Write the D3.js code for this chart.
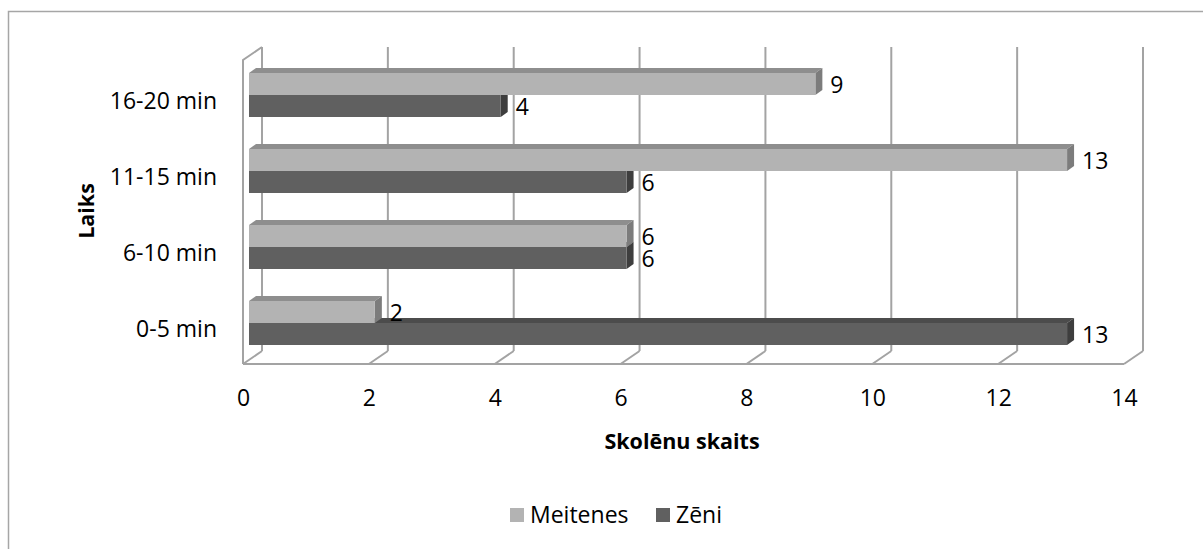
<!DOCTYPE html>
<html>
<head>
<meta charset="utf-8">
<script src="https://cdn.jsdelivr.net/npm/d3@7"></script>
<style>
  body { margin: 0; background: #fff; }
  svg { display: block; font-family: "Open Sans", sans-serif; }
</style>
</head>
<body>
<div id="chart"></div>
<script>
const categories = ['16-20 min', '11-15 min', '6-10 min', '0-5 min'];
const meitenes = [9, 13, 6, 2];
const zeni = [4, 6, 6, 13];
const xTicks = [0, 2, 4, 6, 8, 10, 12, 14];
const seriesNames = ['Meitenes', 'Zēni'];

const width = 1203, height = 549;

// 3d geometry of the plot box
const depth = {dx: 19, dy: -13};     // front plane -> back wall
const barShift = {dx: 6, dy: -3};    // front plane -> bar front face
const barDepth = {dx: 7, dy: -5};    // bar front face -> bar back face

const colors = {
  Meitenes: {front: '#b3b3b3', top: '#8e8e8e', side: '#7c7c7c'},
  'Zēni': {front: '#606060', top: '#4c4c4c', side: '#3e3e3e'}
};
const gridColor = '#a3a3a3';
const labelSize = 23;

const svg = d3.select('#chart').append('svg')
  .attr('width', width)
  .attr('height', height);

// outer frame (only top and left edges are in view)
svg.append('path')
  .attr('d', `M8.5,${height} L8.5,11.5 L${width},11.5`)
  .attr('fill', 'none')
  .attr('stroke', '#a6a6a6')
  .attr('stroke-width', 1.5);

const x = d3.scaleLinear().domain([0, 14]).range([243, 1124]);
const y = d3.scaleBand().domain(categories).range([60, 364]);

const floorY = y.range()[1];
const topY = y.range()[0];

const grid = svg.append('g')
  .attr('fill', 'none')
  .attr('stroke', gridColor)
  .attr('stroke-width', 2);

// back wall verticals
grid.selectAll('.vgrid')
  .data(xTicks)
  .enter().append('line')
  .attr('x1', d => x(d) + depth.dx)
  .attr('x2', d => x(d) + depth.dx)
  .attr('y1', topY + depth.dy)
  .attr('y2', floorY + depth.dy);

// floor diagonals
grid.selectAll('.fgrid')
  .data(xTicks)
  .enter().append('line')
  .attr('x1', d => x(d) + depth.dx)
  .attr('x2', d => x(d))
  .attr('y1', floorY + depth.dy)
  .attr('y2', floorY);

// floor front edge
grid.append('line')
  .attr('x1', x(0)).attr('x2', x(14))
  .attr('y1', floorY).attr('y2', floorY);

// left wall front edge + top
grid.append('path')
  .attr('d', `M${x(0)},${floorY} L${x(0)},${topY} L${x(0) + depth.dx},${topY + depth.dy}`);

// bars: dark ones first so the light bar above hides their top face
const barH = 22;
const rows = [];
categories.forEach((c, i) => {
  const mid = y(c) + y.bandwidth() / 2;
  rows.push({cat: c, series: 'Zēni', value: zeni[i], y0: mid, y1: mid + barH});
  rows.push({cat: c, series: 'Meitenes', value: meitenes[i], y0: mid - barH, y1: mid});
});

const bars = svg.append('g')
  .selectAll('g')
  .data(rows)
  .enter().append('g');

bars.each(function(d) {
  const g = d3.select(this);
  const x0 = x(0) + barShift.dx, x1 = x(d.value) + barShift.dx;
  const y0 = d.y0 + barShift.dy, y1 = d.y1 + barShift.dy;
  const c = colors[d.series];
  g.append('polygon')
    .attr('points', [[x0, y0], [x0 + barDepth.dx, y0 + barDepth.dy], [x1 + barDepth.dx, y0 + barDepth.dy], [x1, y0]].join(' '))
    .attr('fill', c.top);
  g.append('polygon')
    .attr('points', [[x1, y0], [x1 + barDepth.dx, y0 + barDepth.dy], [x1 + barDepth.dx, y1 + barDepth.dy], [x1, y1]].join(' '))
    .attr('fill', c.side);
  g.append('rect')
    .attr('x', x0)
    .attr('y', y0)
    .attr('width', x1 - x0)
    .attr('height', y1 - y0)
    .attr('fill', c.front);
});

// value labels
svg.append('g')
  .selectAll('text')
  .data(rows)
  .enter().append('text')
  .attr('x', d => x(d.value) + 21)
  .attr('y', d => (d.y0 + d.y1) / 2 + barShift.dy + 1)
  .attr('dy', '0.35em')
  .attr('font-size', labelSize)
  .attr('fill', '#000')
  .text(d => d.value);

// category axis
const yAxis = svg.append('g')
  .attr('transform', `translate(${x(0)},3)`)
  .call(d3.axisLeft(y).tickSize(0).tickPadding(26));
yAxis.select('.domain').remove();
yAxis.selectAll('text')
  .attr('font-family', '"Open Sans", sans-serif')
  .attr('font-size', labelSize)
  .attr('fill', '#000')
  .attr('dy', '0.35em');

// value axis labels
const xAxis = svg.append('g')
  .attr('transform', 'translate(0,398)')
  .call(d3.axisBottom(x).tickValues(xTicks).tickSize(0).tickPadding(0));
xAxis.select('.domain').remove();
xAxis.selectAll('text')
  .attr('font-family', '"Open Sans", sans-serif')
  .attr('font-size', labelSize)
  .attr('fill', '#000')
  .attr('dy', '0.35em');

// axis titles
svg.append('text')
  .attr('x', 682)
  .attr('y', 441)
  .attr('dy', '0.35em')
  .attr('text-anchor', 'middle')
  .attr('font-size', 21.5)
  .attr('font-weight', 'bold')
  .text('Skolēnu skaits');

svg.append('text')
  .attr('transform', 'translate(86,211) rotate(-90)')
  .attr('dy', '0.35em')
  .attr('text-anchor', 'middle')
  .attr('font-size', 21.5)
  .attr('font-weight', 'bold')
  .text('Laiks');

// legend
const legendX = [510, 656];
const legend = svg.append('g')
  .selectAll('g')
  .data(seriesNames)
  .enter().append('g')
  .attr('transform', (d, i) => `translate(${legendX[i]},515)`);
legend.append('rect')
  .attr('x', 0).attr('y', -7)
  .attr('width', 14).attr('height', 14)
  .attr('fill', d => colors[d].front);
legend.append('text')
  .attr('x', 20)
  .attr('dy', '0.35em')
  .attr('font-size', labelSize)
  .text(d => d);
</script>
</body>
</html>
